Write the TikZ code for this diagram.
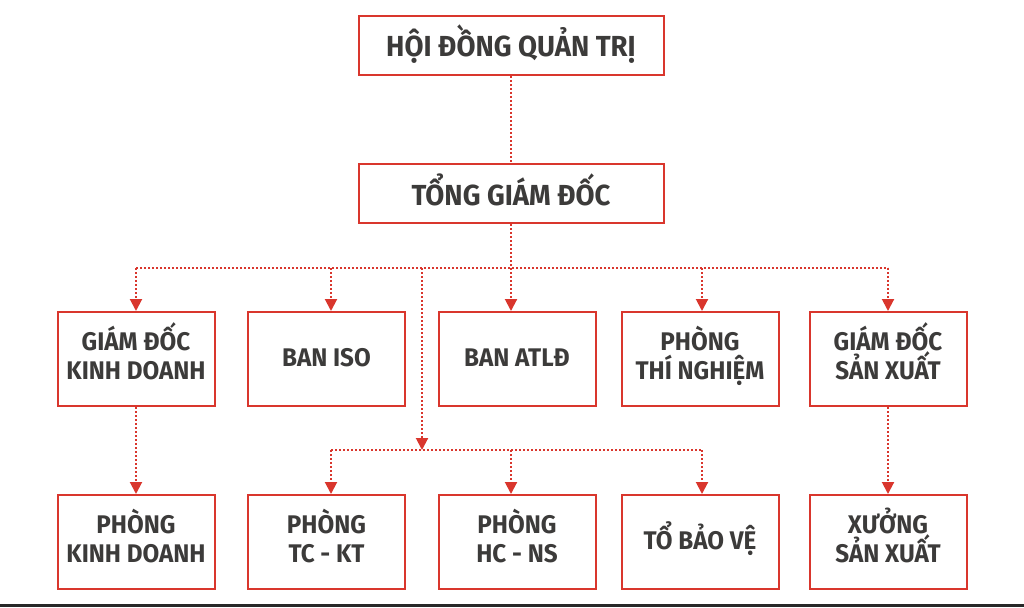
\documentclass[tikz,border=0pt]{standalone}
\usepackage{fontspec}
\setmainfont{Fira Sans}[FakeStretch=0.95]
\usetikzlibrary{arrows.meta}
\definecolor{boxred}{RGB}{217,54,45}
\definecolor{txtgray}{RGB}{60,59,58}
\definecolor{bardark}{RGB}{40,40,40}
\begin{document}
\begin{tikzpicture}[x=1pt,y=-1pt,
  box/.style={draw=boxred, line width=2pt, fill=white, text=txtgray, minimum width=157pt, minimum height=94pt, inner sep=0pt, align=center, font=\bfseries\fontsize{25.5}{29}\selectfont},
  one/.style={box, text height=19pt, text depth=5pt},
  two/.style={box, text height=42pt, text depth=2pt},
  topbox/.style={box, minimum width=305pt, minimum height=59pt, text height=26pt, text depth=3pt, font=\bfseries\fontsize{29}{32}\selectfont},
  link/.style={draw=boxred, line width=2pt, dash pattern=on 2pt off 2pt},
  arr/.style={link, -{Triangle[width=12pt,length=12pt]}}]
\useasboundingbox (0,0) rectangle (1024,607);
\fill[bardark] (0,604) rectangle (1024,607);
% top
\node[topbox] (hdqt) at (511,45.5) {HỘI ĐỒNG QUẢN TRỊ};
\node[topbox] (tgd) at (511,193.5) {TỔNG GIÁM ĐỐC};
% row 1
\node[two] (gdkd) at (136,359) {GIÁM ĐỐC\\KINH DOANH};
\node[one] (baniso) at (326.5,359) {BAN ISO};
\node[one] (banatld) at (517,359) {BAN ATLĐ};
\node[two] (ptn) at (700,359) {PHÒNG\\THÍ NGHIỆM};
\node[two] (gdsx) at (888,359) {GIÁM ĐỐC\\SẢN XUẤT};
% row 2
\node[two] (pkd) at (136,542) {PHÒNG\\KINH DOANH};
\node[two] (ptckt) at (326.5,542) {PHÒNG\\TC - KT};
\node[two] (phcns) at (517,542) {PHÒNG\\HC - NS};
\node[one] (tbv) at (700,542) {TỔ BẢO VỆ};
\node[two] (xsx) at (888,542) {XƯỞNG\\SẢN XUẤT};
% buses
\coordinate (busL) at (136,268);
\coordinate (busR) at (888,268);
\coordinate (busM) at (422,268);
\coordinate (subL) at (331,450);
\coordinate (subR) at (702,450);
\draw[link] (hdqt) -- (tgd);
\draw[link] (tgd.south) -- (tgd.south |- busL);
\draw[link] (busL) -- (busR);
\draw[arr] (busL) -- (busL |- gdkd.north);
\draw[arr] (subL |- busL) -- (subL |- baniso.north);
\draw[arr] (tgd.south |- busL) -- (tgd.south |- banatld.north);
\draw[arr] (subR |- busL) -- (subR |- ptn.north);
\draw[arr] (busR) -- (busR |- gdsx.north);
\draw[arr] (busM) -- (busM |- subL);
\draw[link] (subL) -- (subR);
\draw[arr] (subL) -- (subL |- ptckt.north);
\draw[arr] (tgd.south |- subL) -- (tgd.south |- phcns.north);
\draw[arr] (subR) -- (subR |- tbv.north);
\draw[arr] (gdkd) -- (pkd);
\draw[arr] (gdsx) -- (xsx);
\end{tikzpicture}
\end{document}
